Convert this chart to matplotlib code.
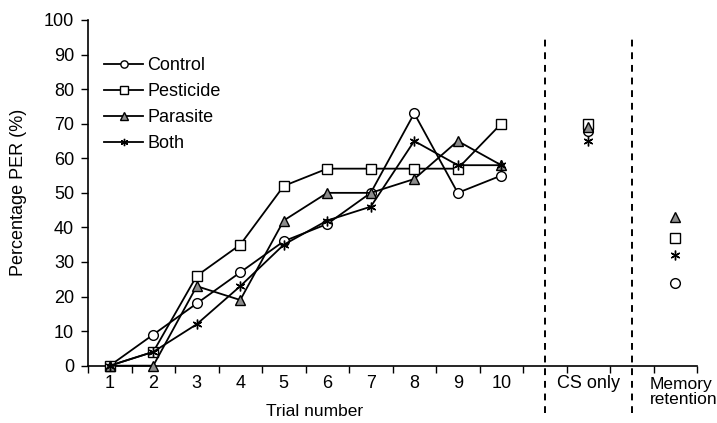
import matplotlib.pyplot as plt
import numpy as np
from matplotlib.transforms import blended_transform_factory

plt.rcParams['font.family'] = ['Liberation Sans', 'DejaVu Sans']

trials = np.arange(1, 11)
cs_pos = 12
mem_pos = 14

control = [0, 9, 18, 27, 36, 41, 50, 73, 50, 55]
pesticide = [0, 4, 26, 35, 52, 57, 57, 57, 57, 70]
parasite = [0, 0, 23, 19, 42, 50, 50, 54, 65, 58]
both = [0, 4, 12, 23, 35, 42, 46, 65, 58, 58]

cs_only = {"Control": 68, "Pesticide": 70, "Parasite": 69, "Both": 65}
memory = {"Control": 24, "Pesticide": 37, "Parasite": 43, "Both": 32}

tick_labels = [str(t) for t in trials] + ["", "CS only", "", ""]
mem_label = "Memory\nretention"

styles = {
    "Control": dict(marker="o", mfc="white"),
    "Pesticide": dict(marker="s", mfc="white"),
    "Parasite": dict(marker="^", mfc="#8c8c8c"),
    "Both": dict(marker=(6, 2, 0), mfc="black"),
}
series = {"Control": control, "Pesticide": pesticide, "Parasite": parasite, "Both": both}

fs = 13

fig = plt.figure(figsize=(7.17, 4.23), dpi=100)
ax = fig.add_axes([88 / 717, 1 - 365.7 / 423, (697 - 88) / 717, (365.7 - 20) / 423])

for name, vals in series.items():
    st = styles[name]
    ax.plot(trials, vals, color="black", lw=1.3, marker=st["marker"], mfc=st["mfc"],
            mec="black", mew=1.0, ms=7, label=name, clip_on=False, zorder=3)
    ax.plot([cs_pos], [cs_only[name]], ls="none", marker=st["marker"], mfc=st["mfc"],
            mec="black", mew=1.0, ms=7, zorder=3)
    ax.plot([mem_pos], [memory[name]], ls="none", marker=st["marker"], mfc=st["mfc"],
            mec="black", mew=1.0, ms=7, zorder=3)

# dashed separators
for xv in [11, 13]:
    ax.plot([xv, xv], [-13.7, 96], ls=(0, (3.5, 3)), color="black", lw=1.4, clip_on=False)

ax.set_xlim(0.5, 14.5)
ax.set_ylim(0, 100)
ax.set_yticks(np.arange(0, 101, 10))
ax.set_xticks(np.arange(0.5, 15, 1))
ax.set_xticklabels([])
ax.set_xticks(np.arange(1, 15), minor=True)
ax.set_xticklabels(tick_labels, minor=True)
ax.tick_params(axis="x", which="minor", length=0, pad=7, labelsize=fs)
ax.tick_params(axis="x", which="major", direction="out", length=5, width=1)
ax.tick_params(axis="y", direction="out", length=5, width=1, labelsize=fs, pad=5)
for s in ["top", "right"]:
    ax.spines[s].set_visible(False)
for s in ["left", "bottom"]:
    ax.spines[s].set_linewidth(1.2)

trans = blended_transform_factory(ax.transData, fig.transFigure)
ax.text(13.42, 1 - 377 / 423, mem_label, transform=trans, ha="left", va="top",
        fontsize=12.5, linespacing=1.0)

ax.set_ylabel("Percentage PER (%)", fontsize=fs, labelpad=12)
ax.set_xlabel("Trial number", fontsize=fs - 0.5)
ax.xaxis.set_label_coords((315 - 88) / (697 - 88), -(411 - 365.7) / (365.7 - 20))
ax.xaxis.label.set_verticalalignment("center")

ax.legend(loc="upper left", bbox_to_anchor=(0.005, 0.93), frameon=False, fontsize=fs,
          markerscale=0.75, handlelength=2.2, handletextpad=0.2, labelspacing=0.5,
          borderaxespad=0.3)

fig.savefig("out.png", dpi=100)
